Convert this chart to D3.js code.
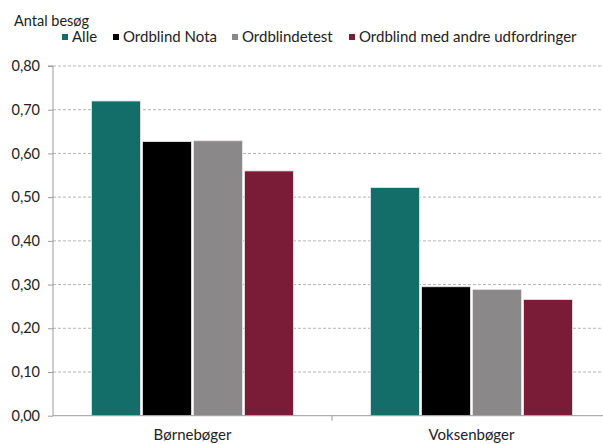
<!DOCTYPE html>
<html><head><meta charset="utf-8">
<script src="https://cdn.jsdelivr.net/npm/d3@7"></script>
<style>body{margin:0;background:#fff}svg{display:block}text{font-family:Lato,"Open Sans",sans-serif;fill:#222}</style>
</head><body><svg id="c" width="603" height="444"></svg>
<script>
const categories = ["Børnebøger", "Voksenbøger"];
const seriesNames = ["Alle", "Ordblind Nota", "Ordblindetest", "Ordblind med andre udfordringer"];
const seriesColors = ["#136e69", "#000000", "#8b8889", "#7a1c37"];
const valuesAlle = [0.72, 0.522];
const valuesNota = [0.627, 0.295];
const valuesTest = [0.629, 0.289];
const valuesAndre = [0.56, 0.266];
const yTicks = [0, 0.1, 0.2, 0.3, 0.4, 0.5, 0.6, 0.7, 0.8];
const yTitle = "Antal besøg";

const seriesValues = [valuesAlle, valuesNota, valuesTest, valuesAndre];
const svg = d3.select("#c");
const mLeft = 53, mRight = 611, mTop = 66, mBottom = 415.7;

const x0 = d3.scaleBand().domain(categories).range([mLeft, mRight]).paddingInner(0.276).paddingOuter(0.138);
const x1 = d3.scaleBand().domain(seriesNames).range([0, x0.bandwidth()]).paddingInner(0.04);
const y = d3.scaleLinear().domain([0, 0.8]).range([mBottom, mTop]);
const fmt = v => d3.format(".2f")(v).replace(".", ",");

// grid
svg.append("g").selectAll("line").data(yTicks.filter(d => d > 0)).join("line")
  .attr("x1", mLeft).attr("x2", 603).attr("y1", d => y(d)).attr("y2", d => y(d))
  .attr("stroke", "#b5b5b5").attr("stroke-width", 1).attr("stroke-dasharray", "3,2");

// bars
const g = svg.append("g");
categories.forEach((c, ci) => {
  seriesNames.forEach((s, si) => {
    g.append("rect")
      .attr("x", x0(c) + x1(s)).attr("width", x1.bandwidth())
      .attr("y", y(seriesValues[si][ci])).attr("height", mBottom - y(seriesValues[si][ci]))
      .attr("fill", seriesColors[si]).attr("stroke", "#e8e8e8").attr("stroke-width", 0.8);
  });
});

// y axis
const ya = svg.append("g").attr("transform", `translate(${mLeft},0)`)
  .call(d3.axisLeft(y).tickValues(yTicks).tickFormat(fmt).tickSize(5).tickPadding(8));
ya.select(".domain").attr("stroke", "#9a9a9a").attr("d", `M-5,${mTop}H0V${mBottom}`);
ya.selectAll(".tick line").attr("stroke", "#9a9a9a");
ya.selectAll(".tick text").attr("font-size", 14.5).attr("fill", "#222").style("font-family", "Lato, sans-serif");

// x axis
svg.append("line").attr("x1", mLeft).attr("x2", 603).attr("y1", mBottom).attr("y2", mBottom).attr("stroke", "#9a9a9a");
svg.append("line").attr("x1", mLeft + x0.step()).attr("x2", mLeft + x0.step()).attr("y1", mBottom).attr("y2", mBottom + 5).attr("stroke", "#9a9a9a");
svg.append("g").selectAll("text").data(categories).join("text")
  .attr("x", d => x0(d) + x0.bandwidth() / 2).attr("y", 440)
  .attr("text-anchor", "middle").attr("font-size", 15).text(d => d);

// title
svg.append("text").attr("x", 14).attr("y", 26).attr("font-size", 14.5).text(yTitle);

// legend
const legX = [62, 113, 232, 349];
const lg = svg.append("g");
seriesNames.forEach((s, i) => {
  lg.append("rect").attr("x", legX[i]).attr("y", 34).attr("width", 6).attr("height", 6).attr("fill", seriesColors[i]);
  lg.append("text").attr("x", legX[i] + 10).attr("y", 42).attr("font-size", 15).text(s);
});
</script></body></html>
